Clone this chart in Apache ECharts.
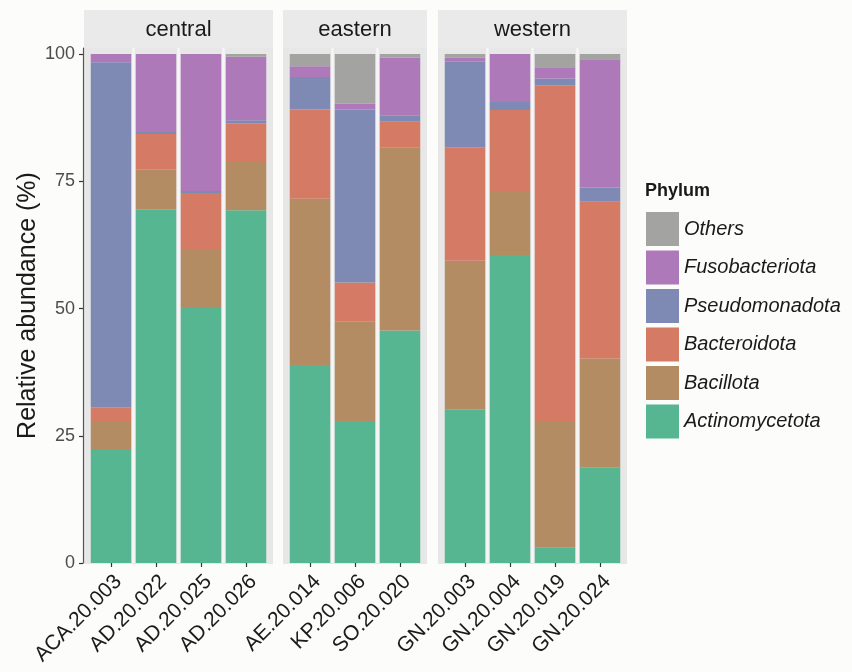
<!DOCTYPE html>
<html>
<head>
<meta charset="utf-8">
<script src="https://cdn.jsdelivr.net/npm/echarts@6/dist/echarts.min.js"></script>
<style>
html,body{margin:0;padding:0;background:#FCFCFA;}
#chart{width:852px;height:672px;}
</style>
</head>
<body>
<div id="chart"></div>
<script>
// ---- data ----
const regions = ['central', 'eastern', 'western'];
const samplesCentral = ['ACA.20.003', 'AD.20.022', 'AD.20.025', 'AD.20.026'];
const samplesEastern = ['AE.20.014', 'KP.20.006', 'SO.20.020'];
const samplesWestern = ['GN.20.003', 'GN.20.004', 'GN.20.019', 'GN.20.024'];
const phyla = ['Actinomycetota', 'Bacillota', 'Bacteroidota', 'Pseudomonadota', 'Fusobacteriota', 'Others'];
// values in the order: central (4), eastern (3), western (4)
const actinomycetota = [22.2, 69.5, 50.3, 69.3, 38.9, 27.9, 45.7, 30.2, 60.5, 3.0, 18.8];
const bacillota      = [5.7, 7.8, 11.2, 9.5, 32.7, 19.5, 36.0, 29.2, 12.4, 24.9, 21.4];
const bacteroidota   = [2.7, 7.0, 11.2, 7.6, 17.5, 7.7, 5.0, 22.3, 16.1, 66.0, 30.8];
const pseudomonadota = [67.8, 0.4, 0.4, 0.6, 6.4, 34.0, 1.3, 16.8, 1.6, 1.3, 2.8];
const fusobacteriota = [1.6, 15.3, 26.9, 12.5, 2.1, 1.2, 11.3, 0.8, 9.4, 2.2, 25.2];
const others         = [0, 0, 0, 0.5, 2.4, 9.7, 0.7, 0.7, 0, 2.6, 1.0];
const yTicks = [0, 25, 50, 75, 100];

// ---- styling ----
const colors = {
  Actinomycetota: '#57B692', Bacillota: '#B48C63', Bacteroidota: '#D57B65',
  Pseudomonadota: '#7F8AB4', Fusobacteriota: '#AD79B8', Others: '#A3A3A1'
};
const FONT = 'Liberation Sans, Arial, sans-serif';
const sampleGroups = [samplesCentral, samplesEastern, samplesWestern];
const valueArrays = [actinomycetota, bacillota, bacteroidota, pseudomonadota, fusobacteriota, others];
const slot = 45;
const panelLeft = [84, 283, 438];
const panelTop = 48, plotBottom = 563;
const stripTop = 10;

const chart = echarts.init(document.getElementById('chart'), null, {renderer: 'canvas'});

const grids = [], xAxes = [], yAxes = [], series = [], graphics = [];
let offset = 0;
sampleGroups.forEach((cats, g) => {
  const n = cats.length;
  const pw = (n + 0.2) * slot;
  grids.push({left: panelLeft[g] + 0.1 * slot, top: panelTop, width: n * slot, height: plotBottom - panelTop});
  // panel background & strip
  graphics.push({type: 'rect', z: -10, shape: {x: panelLeft[g], y: panelTop, width: pw, height: plotBottom - panelTop + 1}, style: {fill: '#E7E7E7'}});
  graphics.push({type: 'rect', z: -10, shape: {x: panelLeft[g], y: stripTop, width: pw, height: panelTop - stripTop}, style: {fill: '#EAEAEA'}});
  graphics.push({type: 'text', z: 5, x: panelLeft[g] + pw / 2, y: (stripTop + panelTop) / 2 + 1,
    style: {text: regions[g], font: '22px ' + FONT, fill: '#1A1A1A', align: 'center', verticalAlign: 'middle'}});
  const gapColors = [];
  for (let i = 0; i <= n; i++) gapColors.push(i === 0 || i === n ? 'rgba(0,0,0,0)' : '#F6F6F6');
  xAxes.push({
    type: 'category', gridIndex: g, data: cats,
    axisLine: {show: false},
    axisTick: {show: true, alignWithLabel: true, length: 4, lineStyle: {color: '#333', width: 1.2}},
    axisLabel: {rotate: 45, fontSize: 21, color: '#1A1A1A', fontFamily: FONT, margin: 8, interval: 0,
      align: 'right', verticalAlign: 'top'},
    splitLine: {show: true, lineStyle: {color: gapColors, width: 2.5}}
  });
  yAxes.push({
    type: 'value', gridIndex: g, min: 0, max: 101.2,
    show: g === 0,
    offset: 5.5,
    name: g === 0 ? 'Relative abundance (%)' : '',
    nameLocation: 'middle', nameGap: 42, nameRotate: 90,
    nameTextStyle: {fontSize: 25, color: '#1A1A1A', fontFamily: FONT},
    axisLine: {show: true, lineStyle: {color: '#555', width: 1.2}},
    axisTick: {show: true, length: 4, customValues: yTicks, lineStyle: {color: '#333', width: 1.2}},
    axisLabel: {fontSize: 18, color: '#4D4D4D', fontFamily: FONT, margin: 8, customValues: yTicks},
    splitLine: {show: false}
  });
  phyla.forEach((p, k) => {
    series.push({
      name: p, type: 'bar', stack: 'st' + g, xAxisIndex: g, yAxisIndex: g,
      barWidth: '90%',
      itemStyle: {color: colors[p]},
      data: valueArrays[k].slice(offset, offset + n)
    });
  });
  offset += n;
});

graphics.push({type: 'text', x: 645, y: 191,
  style: {text: 'Phylum', font: 'bold 18px ' + FONT, fill: '#1A1A1A', verticalAlign: 'middle'}});

chart.setOption({
  backgroundColor: '#FCFCFA',
  animation: false,
  color: phyla.map(p => colors[p]),
  grid: grids,
  xAxis: xAxes,
  yAxis: yAxes,
  series: series,
  graphic: graphics,
  legend: {
    data: phyla.slice().reverse().map(p => ({name: p, icon: 'rect'})),
    orient: 'vertical', left: 646, top: 212, padding: 0,
    itemWidth: 33, itemHeight: 34, itemGap: 4.5,
    textStyle: {fontSize: 20, fontStyle: 'italic', color: '#1A1A1A', fontFamily: FONT},
    selectedMode: false
  }
});
</script>
</body>
</html>
